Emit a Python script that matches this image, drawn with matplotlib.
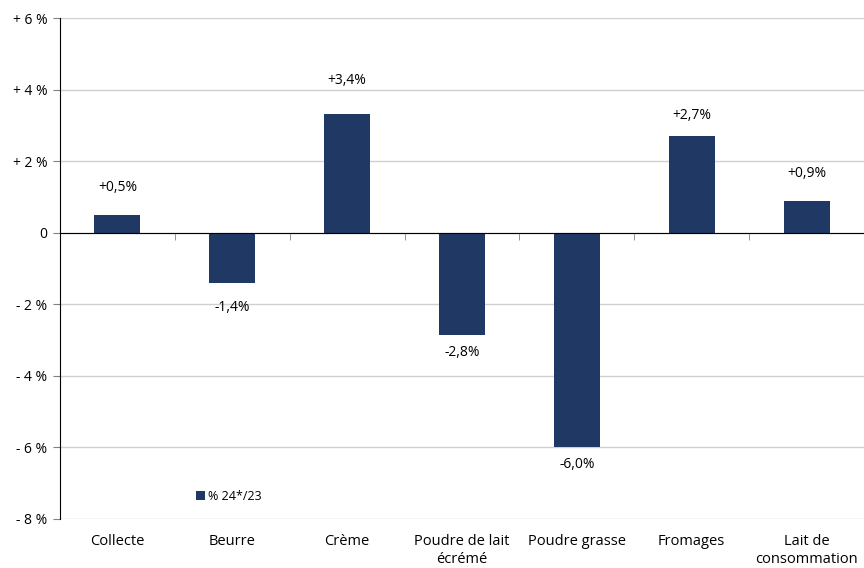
import numpy as np
import matplotlib.pyplot as plt

categories = ['Collecte', 'Beurre', 'Crème', 'Poudre de lait\nécrémé', 'Poudre grasse', 'Fromages', 'Lait de\nconsommation']
values = [0.5, -1.4, 3.33, -2.85, -6.0, 2.69, 0.88]
value_labels = ['+0,5%', '-1,4%', '+3,4%', '-2,8%', '-6,0%', '+2,7%', '+0,9%']
y_ticks = [6, 4, 2, 0, -2, -4, -6, -8]
y_tick_labels = ['+ 6 %', '+ 4 %', '+ 2 %', '0', '- 2 %', '- 4 %', '- 6 %', '- 8 %']

plt.rcParams['font.family'] = ['Open Sans', 'DejaVu Sans']
plt.rcParams['font.size'] = 10

fig = plt.figure(figsize=(8.64, 5.68), dpi=100)
ax = fig.add_axes([60 / 864, 49 / 568, 804 / 864, 501 / 568])

x = np.arange(len(categories))
ax.bar(x, values, width=0.4, color='#1f3864', label='% 24*/23', zorder=3)

# label distance from bar end, in pixels (labels were hand-placed in the original)
label_gaps = [27, 25, 33, 18, 17, 21, 28]
for xi, v, lab, g in zip(x, values, value_labels, label_gaps):
    off = g if v > 0 else -g
    ax.annotate(lab, (xi, v), xytext=(0, off), textcoords='offset pixels',
                ha='center', va='center', fontsize=10)

ax.set_xlim(-0.5, len(categories) - 0.5)
ax.set_ylim(-8, 6)
ax.set_yticks(y_ticks)
ax.set_yticklabels(y_tick_labels)
ax.yaxis.grid(True, color='#d0d0d0', linewidth=1)
ax.set_axisbelow(True)
ax.tick_params(axis='y', length=5, color='#808080', pad=4)

for s in ['top', 'right']:
    ax.spines[s].set_visible(False)
ax.spines['left'].set_color('black')
ax.spines['bottom'].set_position(('data', 0))
ax.spines['bottom'].set_color('black')
ax.spines['bottom'].set_zorder(4)

# boundary ticks on the zero line, category labels at the bottom
ax.set_xticks(x)
ax.set_xticklabels([])
ax.tick_params(axis='x', which='major', length=0)
ax.set_xticks(np.arange(len(categories) + 1) - 0.5, minor=True)
ax.tick_params(axis='x', which='minor', length=5, color='#808080', direction='out')
for xi, cat in zip(x, categories):
    ax.text(xi, -0.03, cat, transform=ax.get_xaxis_transform(),
            ha='center', va='top', fontsize=10.5, linespacing=1.3)

ax.legend(loc='lower left', bbox_to_anchor=(0.155, 0.01), frameon=False,
          handlelength=0.7, handleheight=0.7, handletextpad=0.3, fontsize=9)

fig.savefig('out.png', dpi=100)
